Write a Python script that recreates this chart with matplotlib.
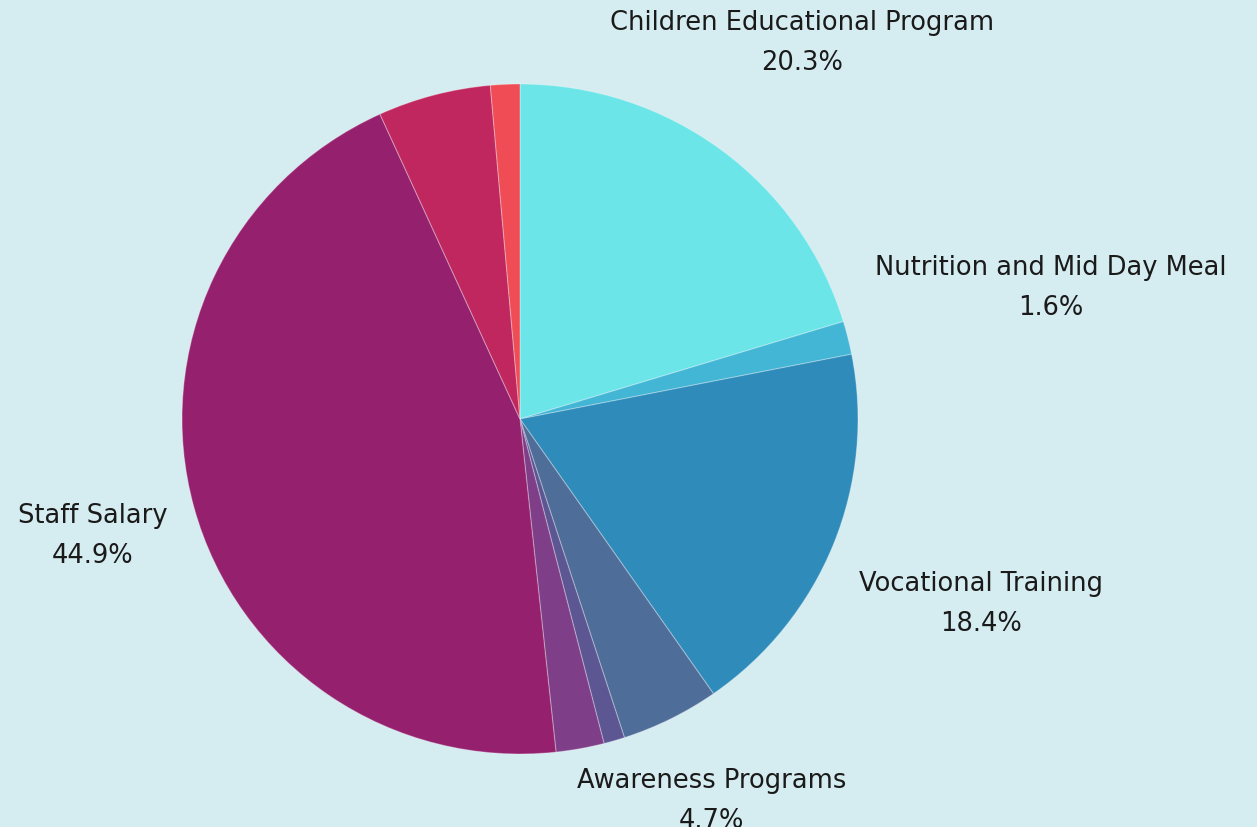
import numpy as np
import matplotlib
matplotlib.use("Agg")
import matplotlib.pyplot as plt

categories = ['Children Educational Program', 'Nutrition and Mid Day Meal', 'Vocational Training',
              'Awareness Programs', 'Other A', 'Other B', 'Staff Salary', 'Other C', 'Other D']
shares = [20.3, 1.6, 18.4, 4.7, 1.0, 2.3, 44.9, 5.4, 1.4]
show_label = [True, True, True, True, False, False, True, False, False]
colors = ['#6ce5e8', '#43b6d6', '#2e8bba', '#4f6d99', '#5c5693', '#7f3f88', '#95216e', '#c0275e', '#ef4c55']

# label distance (in radii) for each shown label
label_r = {'Children Educational Program': 1.40, 'Nutrition and Mid Day Meal': 1.62,
           'Vocational Training': 1.47, 'Awareness Programs': 1.27, 'Staff Salary': 1.31}

bg = '#d5ecf0'
plt.rcParams['font.family'] = ['DejaVu Sans']

fig = plt.figure(figsize=(12.57, 8.28), dpi=100, facecolor=bg)
ax = fig.add_axes([182/1257, 73/828, 676/1257, 670/828])
ax.set_facecolor(bg)

wedges, _ = ax.pie(shares, colors=colors, startangle=90, counterclock=False,
                   wedgeprops=dict(edgecolor=(1, 1, 1, 0.3), linewidth=0.8))
ax.set_xlim(-1, 1)
ax.set_ylim(-1, 1)
ax.set_aspect('auto')
ax.axis('off')

total = sum(shares)
for w, name, val, show in zip(wedges, categories, shares, show_label):
    if not show:
        continue
    mid = np.deg2rad((w.theta1 + w.theta2) / 2)
    r = label_r[name]
    ax.text(r*np.cos(mid), r*np.sin(mid), f'{name}\n{val/total*100:.1f}%',
            ha='center', va='center', fontsize=18.5, color='#1a1a1a',
            linespacing=1.7, clip_on=False)

fig.savefig('out.png', dpi=100, facecolor=bg)
